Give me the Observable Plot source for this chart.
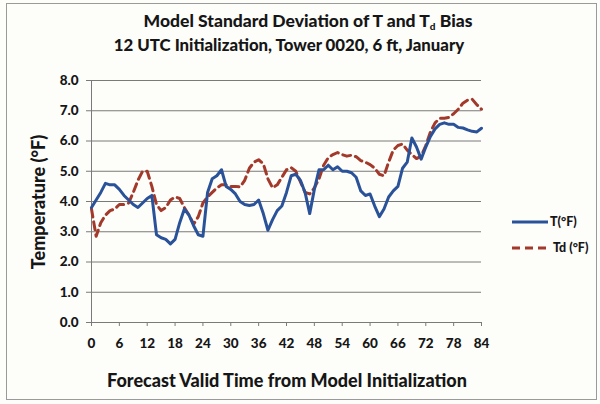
<!DOCTYPE html>
<html><head><meta charset="utf-8">
<script src="https://cdn.jsdelivr.net/npm/d3@7"></script>
<script src="https://cdn.jsdelivr.net/npm/@observablehq/plot@0.6"></script>
<style>
body{margin:0;background:#fff}
#wrap{position:relative;width:600px;height:404px;background:#fdfdfa;font-family:Lato,"Open Sans","DejaVu Sans",sans-serif;font-weight:900;color:#161616;overflow:hidden}
#border{position:absolute;left:6px;top:3px;width:591px;height:397px;border:1px solid #9a9a9a;box-sizing:border-box}
.t{position:absolute;white-space:nowrap;transform:translate(-50%,-50%);line-height:1}
#chart{position:absolute;left:0;top:0}
.leg{position:absolute;font-size:12.5px;white-space:nowrap;line-height:1;transform:translateY(-50%)}
</style></head>
<body>
<div id="wrap">
  <div id="border"></div>
  <div id="chart"></div>
  <div class="t" id="title1" style="left:308px;top:21px;font-size:17.5px">Model Standard Deviation of T and T<sub style="font-size:10px;vertical-align:-3px">d</sub> Bias</div>
  <div class="t" id="title2" style="left:289px;top:45px;font-size:16.8px">12 UTC Initialization, Tower 0020, 6 ft, January</div>
  <div class="t" id="ytitle" style="left:38px;top:202px;font-size:18px;transform:translate(-50%,-50%) rotate(-90deg)">Temperature (°F)</div>
  <div class="t" id="xtitle" style="left:287px;top:380px;font-size:18px">Forecast Valid Time from Model Initialization</div>
  <svg style="position:absolute;left:0;top:0" width="600" height="404">
    <line x1="512" x2="548" y1="222" y2="222" stroke="#2a5299" stroke-width="3"/>
    <line x1="512" x2="550" y1="248" y2="248" stroke="#a3392a" stroke-width="3" stroke-dasharray="8,5"/>
  </svg>
  <div class="leg" style="left:550px;top:222px">T(°F)</div>
  <div class="leg" style="left:553px;top:248px">Td (°F)</div>
</div>
<script>
const hours = d3.range(0, 85);
const seriesNames = ["T(°F)", "Td (°F)"];
const tValues = [
  3.8, 4.05, 4.3, 4.6, 4.55, 4.55, 4.4, 4.2, 4.05, 3.9,
  3.8, 3.95, 4.1, 4.2, 2.9, 2.8, 2.75, 2.6, 2.75, 3.3,
  3.75, 3.55, 3.2, 2.9, 2.85, 4.3, 4.75, 4.85, 5.05, 4.5,
  4.4, 4.25, 4.0, 3.9, 3.87, 3.9, 4.05, 3.6, 3.05, 3.4,
  3.7, 3.85, 4.3, 4.85, 4.9, 4.7, 4.3, 3.6, 4.4, 5.05,
  5.05, 5.2, 5.05, 5.15, 5.0, 5.0, 4.95, 4.8, 4.35, 4.2,
  4.25, 3.85, 3.5, 3.75, 4.15, 4.35, 4.5, 5.1, 5.3, 6.1,
  5.8, 5.4, 5.8, 6.15, 6.4, 6.55, 6.6, 6.55, 6.55, 6.45,
  6.43, 6.37, 6.32, 6.3, 6.42
];
const tdValues = [
  3.75, 2.85, 3.3, 3.55, 3.7, 3.75, 3.9, 3.9, 3.95, 4.3,
  4.7, 5.0, 5.0, 4.5, 3.9, 3.7, 3.8, 4.05, 4.15, 4.1,
  3.8, 3.55, 3.25, 3.5, 3.95, 4.15, 4.3, 4.45, 4.55, 4.55,
  4.5, 4.5, 4.48, 4.7, 5.1, 5.3, 5.38, 5.25, 4.75, 4.45,
  4.55, 4.8, 5.05, 5.12, 5.0, 4.65, 4.3, 4.25, 4.45, 4.75,
  5.2, 5.45, 5.55, 5.62, 5.55, 5.5, 5.53, 5.48, 5.35, 5.3,
  5.22, 5.1, 4.9, 4.85, 5.3, 5.7, 5.85, 5.9, 5.7, 5.55,
  5.42, 5.5, 5.85, 6.3, 6.6, 6.75, 6.75, 6.78, 6.9, 7.05,
  7.25, 7.35, 7.38, 7.2, 7.05
];
const xTicks = [0, 6, 12, 18, 24, 30, 36, 42, 48, 54, 60, 66, 72, 78, 84];
const yTicks = [0, 1, 2, 3, 4, 5, 6, 7, 8];

const tData = hours.map((h, i) => ({hour: h, value: tValues[i], series: seriesNames[0]}));
const tdData = hours.map((h, i) => ({hour: h, value: tdValues[i], series: seriesNames[1]}));

const chart = Plot.plot({
  width: 600,
  height: 404,
  marginLeft: 91,
  marginRight: 119,
  marginTop: 80,
  marginBottom: 82,
  style: {background: "transparent", fontFamily: "Lato, 'Open Sans', sans-serif", fontWeight: "900", fontSize: "13.5px", color: "#161616"},
  x: {domain: [0, 84]},
  y: {domain: [0, 8]},
  marks: [
    Plot.gridY(yTicks, {stroke: "#7a7a7a", strokeOpacity: 1, strokeWidth: 1}),
    Plot.ruleX([0], {stroke: "#7a7a7a", strokeWidth: 1}),
    Plot.axisY(yTicks, {tickFormat: d => d.toFixed(1), tickSize: 5, tickPadding: 8, stroke: "#7a7a7a", label: null, fontSize: 13.5, fontWeight: "900"}),
    Plot.axisX(xTicks, {tickSize: 4, tickPadding: 12, stroke: "#7a7a7a", label: null, fontSize: 13.5, fontWeight: "900"}),
    Plot.ruleY([0], {stroke: "#7a7a7a", strokeWidth: 1}),
    Plot.line(tdData, {x: "hour", y: "value", stroke: "#a3392a", strokeWidth: 3, strokeDasharray: "8,5", curve: "linear"}),
    Plot.line(tData, {x: "hour", y: "value", stroke: "#2a5299", strokeWidth: 3, curve: "linear"})
  ]
});
document.getElementById("chart").appendChild(chart);
</script>
</body></html>
